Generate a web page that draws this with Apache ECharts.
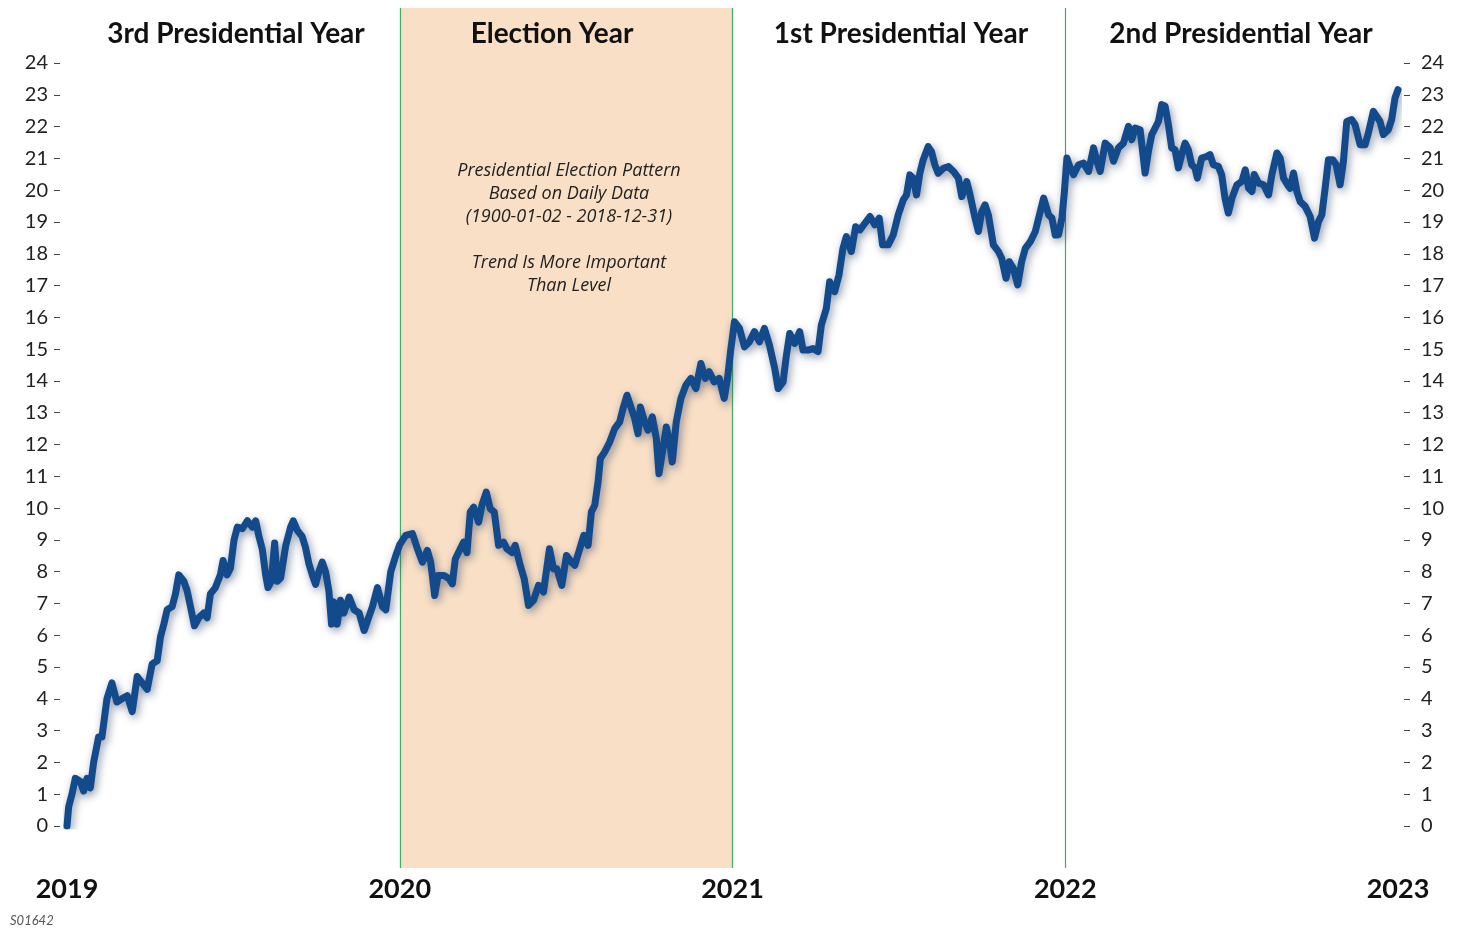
<!DOCTYPE html>
<html>
<head>
<meta charset="utf-8">
<script src="https://cdn.jsdelivr.net/npm/echarts@6/dist/echarts.min.js"></script>
<style>
html,body{margin:0;padding:0;background:#fff;}
#c{width:1457px;height:930px;}
</style>
</head>
<body>
<div id="c"></div>
<script>
// ---- Data (fraction of year, cumulative % pattern) ----
const yearStarts = [2019, 2020, 2021, 2022];
const phaseLabels = ['3rd Presidential Year', 'Election Year', '1st Presidential Year', '2nd Presidential Year'];
const xTickYears = [2019, 2020, 2021, 2022, 2023];
const yTicks = [0,1,2,3,4,5,6,7,8,9,10,11,12,13,14,15,16,17,18,19,20,21,22,23,24];

const t2019 = [0.000,0.005,0.015,0.025,0.040,0.050,0.060,0.070,0.080,0.095,0.105,0.120,0.135,0.150,0.165,0.181,0.196,0.211,0.226,0.241,0.256,0.271,0.281,0.291,0.301,0.316,0.326,0.336,0.351,0.361,0.371,0.383,0.396,0.411,0.421,0.431,0.446,0.461,0.469,0.481,0.491,0.502,0.512,0.527,0.542,0.557,0.567,0.577,0.587,0.597,0.604,0.614,0.624,0.632,0.642,0.657,0.672,0.680,0.692,0.707,0.717,0.727,0.737,0.747,0.757,0.767,0.777,0.787,0.795,0.802,0.812,0.822,0.832,0.848,0.863,0.878,0.893,0.903,0.918,0.933,0.948,0.958,0.973,0.988];
const v2019 = [0.0,0.6,1.0,1.5,1.4,1.1,1.5,1.2,2.0,2.8,2.8,4.0,4.5,3.9,4.0,4.1,3.6,4.7,4.5,4.3,5.1,5.2,5.95,6.35,6.8,6.9,7.3,7.9,7.7,7.4,6.9,6.3,6.55,6.7,6.55,7.3,7.5,7.9,8.35,7.9,8.1,9.0,9.4,9.35,9.6,9.4,9.6,9.1,8.7,7.9,7.5,7.7,8.9,7.7,7.8,8.8,9.4,9.6,9.3,9.1,8.75,8.25,7.9,7.6,8.0,8.3,8.0,7.4,6.35,7.05,6.35,7.1,6.7,7.2,6.8,6.7,6.15,6.45,6.9,7.5,6.9,6.8,8.0,8.5];

const t2020 = [0.000,0.018,0.038,0.053,0.068,0.083,0.093,0.105,0.115,0.133,0.148,0.158,0.167,0.182,0.192,0.202,0.212,0.222,0.237,0.247,0.260,0.272,0.284,0.297,0.312,0.322,0.337,0.347,0.362,0.374,0.387,0.402,0.417,0.432,0.450,0.462,0.472,0.487,0.501,0.516,0.526,0.541,0.553,0.566,0.576,0.586,0.596,0.603,0.616,0.631,0.646,0.661,0.671,0.683,0.693,0.706,0.716,0.723,0.736,0.746,0.759,0.771,0.779,0.791,0.801,0.811,0.819,0.831,0.845,0.860,0.875,0.890,0.905,0.918,0.930,0.945,0.960,0.975,0.985,0.995];
const v2020 = [8.85,9.14,9.2,8.72,8.3,8.67,8.3,7.25,7.88,7.88,7.78,7.62,8.4,8.72,8.93,8.6,9.88,10.03,9.56,10.09,10.5,9.98,9.88,8.83,8.93,8.72,8.6,8.83,8.2,7.78,6.94,7.1,7.57,7.36,8.72,8.09,8.09,7.57,8.51,8.3,8.2,8.72,9.14,8.83,9.88,10.09,10.82,11.56,11.77,12.08,12.5,12.71,13.13,13.55,13.23,12.82,12.34,13.18,12.71,12.45,12.87,12.19,11.08,11.87,12.55,12.08,11.45,12.71,13.45,13.87,14.08,13.76,14.55,14.08,14.29,13.97,14.08,13.45,14.08,15.0];

const t2021 = [0.006,0.021,0.036,0.051,0.066,0.081,0.096,0.111,0.127,0.137,0.152,0.162,0.172,0.187,0.202,0.212,0.227,0.242,0.257,0.267,0.282,0.292,0.307,0.320,0.332,0.342,0.357,0.370,0.383,0.398,0.413,0.428,0.441,0.451,0.468,0.483,0.498,0.513,0.523,0.533,0.543,0.553,0.563,0.573,0.588,0.598,0.608,0.618,0.634,0.649,0.664,0.679,0.689,0.704,0.714,0.729,0.739,0.749,0.759,0.769,0.784,0.799,0.809,0.822,0.832,0.844,0.857,0.869,0.880,0.895,0.910,0.920,0.935,0.950,0.960,0.970,0.980,0.990,0.997];
const v2021 = [15.86,15.65,15.07,15.23,15.55,15.23,15.65,15.13,14.39,13.76,13.97,14.81,15.49,15.18,15.55,14.97,14.97,15.02,14.92,15.76,16.28,17.12,16.81,17.33,18.17,18.54,18.07,18.85,18.75,18.96,19.17,18.91,19.12,18.28,18.28,18.59,19.22,19.69,19.85,20.48,20.38,19.85,20.53,20.95,21.37,21.21,20.8,20.53,20.69,20.74,20.59,20.38,19.8,20.27,19.85,19.12,18.7,19.33,19.54,19.22,18.28,18.07,17.86,17.23,17.75,17.54,17.02,17.75,18.17,18.38,18.7,19.12,19.75,19.22,19.12,18.59,18.6,19.12,19.9];

const t2022 = [0.005,0.015,0.025,0.040,0.055,0.070,0.085,0.095,0.105,0.120,0.135,0.145,0.160,0.175,0.190,0.200,0.210,0.225,0.240,0.250,0.260,0.270,0.280,0.290,0.300,0.310,0.320,0.330,0.340,0.350,0.360,0.370,0.380,0.390,0.397,0.410,0.425,0.435,0.445,0.460,0.470,0.480,0.490,0.501,0.516,0.531,0.541,0.551,0.561,0.568,0.581,0.596,0.611,0.621,0.636,0.646,0.656,0.668,0.676,0.686,0.696,0.706,0.721,0.736,0.749,0.761,0.771,0.781,0.791,0.804,0.814,0.826,0.836,0.846,0.861,0.871,0.886,0.901,0.911,0.926,0.936,0.946,0.956,0.971,0.981,0.991,1.000];
const v2022 = [21.01,20.7,20.49,20.8,20.85,20.59,21.33,20.91,20.59,21.48,21.33,20.91,21.33,21.48,22.01,21.59,21.95,21.9,20.54,21.22,21.75,21.95,22.16,22.69,22.64,22.06,21.33,21.27,20.7,21.12,21.48,21.27,20.8,20.7,20.38,21.01,21.06,21.12,20.8,20.75,20.49,19.75,19.28,19.75,20.17,20.28,20.64,20.06,19.96,20.49,20.22,20.17,19.85,20.49,21.17,21.01,20.38,20.17,20.06,20.54,19.96,19.64,19.49,19.17,18.49,19.01,19.22,20.06,20.96,20.96,20.8,20.17,20.91,22.16,22.22,22.06,21.43,21.43,21.8,22.48,22.32,22.16,21.75,21.9,22.22,22.9,23.16];

const annotationLines = ['Presidential Election Pattern', 'Based on Daily Data', '(1900-01-02 - 2018-12-31)', '', 'Trend Is More Important', 'Than Level'];

// ---- Build series data ----
const yearT = [t2019, t2020, t2021, t2022];
const yearV = [v2019, v2020, v2021, v2022];
const lineData = [];
yearT.forEach((ts, k) => ts.forEach((f, i) => lineData.push([yearStarts[k] + f, yearV[k][i]])));

const chart = echarts.init(document.getElementById('c'), null, {renderer: 'canvas'});
const font = 'Lato, "Open Sans", "DejaVu Sans", sans-serif';

const option = {
  backgroundColor: '#ffffff',
  animation: false,
  grid: [
    {left: 67, right: 59, top: 63, bottom: 104, containLabel: false},
    {left: 67, right: 59, top: 8, bottom: 62, containLabel: false}
  ],
  xAxis: [
    {
      type: 'value', gridIndex: 0, min: 2019, max: 2023, interval: 1,
      axisLine: {show: false}, axisTick: {show: false}, splitLine: {show: false},
      axisLabel: {formatter: v => String(v), fontFamily: font, fontWeight: 'bold', fontSize: 27, color: '#111', margin: 50}
    },
    {
      type: 'value', gridIndex: 1, min: 2019, max: 2023, interval: 1, show: false
    }
  ],
  yAxis: [
    {
      type: 'value', gridIndex: 0, position: 'left', min: 0, max: 24, interval: 1, offset: 7,
      axisLine: {show: false}, axisTick: {show: true, length: 6, lineStyle: {color: '#444', width: 1}},
      splitLine: {show: false},
      axisLabel: {fontFamily: font, fontSize: 20, color: '#222', margin: 12}
    },
    {
      type: 'value', gridIndex: 0, position: 'right', min: 0, max: 24, interval: 1, offset: 6,
      axisLine: {show: false}, axisTick: {show: true, length: 6, lineStyle: {color: '#444', width: 1}},
      splitLine: {show: false},
      axisLabel: {fontFamily: font, fontSize: 20, color: '#222', margin: 17}
    },
    {
      type: 'value', gridIndex: 1, min: 0, max: 1, show: false
    }
  ],
  series: [
    {
      type: 'line', xAxisIndex: 1, yAxisIndex: 2, data: [], silent: true, z: 1,
      markArea: {
        silent: true,
        itemStyle: {color: '#f8dfc6'},
        data: [[{xAxis: yearStarts[1]}, {xAxis: yearStarts[2]}]]
      },
      markLine: {
        silent: true, symbol: ['none', 'none'],
        label: {show: false},
        lineStyle: {color: '#3fb064', width: 1.2, type: 'solid', opacity: 1},
        data: [{xAxis: yearStarts[1]}, {xAxis: yearStarts[2]}, {xAxis: yearStarts[3]}]
      }
    },
    {
      type: 'line', xAxisIndex: 0, yAxisIndex: 0, data: lineData, showSymbol: false, symbol: 'none', z: 5,
      lineStyle: {color: '#134a8c', width: 7, join: 'round', cap: 'round',
        shadowColor: 'rgba(10,30,70,0.45)', shadowBlur: 9, shadowOffsetX: 2, shadowOffsetY: 3}
    }
  ],
  graphic: [
    {type: 'text', z: 100, x: 236, y: 34, style: {text: phaseLabels[0], font: 'bold 28px ' + font, fill: '#111', align: 'center', verticalAlign: 'middle'}},
    {type: 'text', z: 100, x: 552, y: 34, style: {text: phaseLabels[1], font: 'bold 28px ' + font, fill: '#111', align: 'center', verticalAlign: 'middle'}},
    {type: 'text', z: 100, x: 901, y: 34, style: {text: phaseLabels[2], font: 'bold 28px ' + font, fill: '#111', align: 'center', verticalAlign: 'middle'}},
    {type: 'text', z: 100, x: 1241, y: 34, style: {text: phaseLabels[3], font: 'bold 28px ' + font, fill: '#111', align: 'center', verticalAlign: 'middle'}},
    {type: 'text', z: 100, x: 569, y: 159, style: {text: annotationLines.join('\n'), font: 'italic 18px "Open Sans", Lato, sans-serif', fill: '#222', align: 'center', verticalAlign: 'top', lineHeight: 23}},
    {type: 'text', z: 100, x: 10, y: 914, style: {text: 'S01642', font: 'italic 13px ' + font, fill: '#555'}}
  ]
};
chart.setOption(option);
</script>
</body>
</html>
